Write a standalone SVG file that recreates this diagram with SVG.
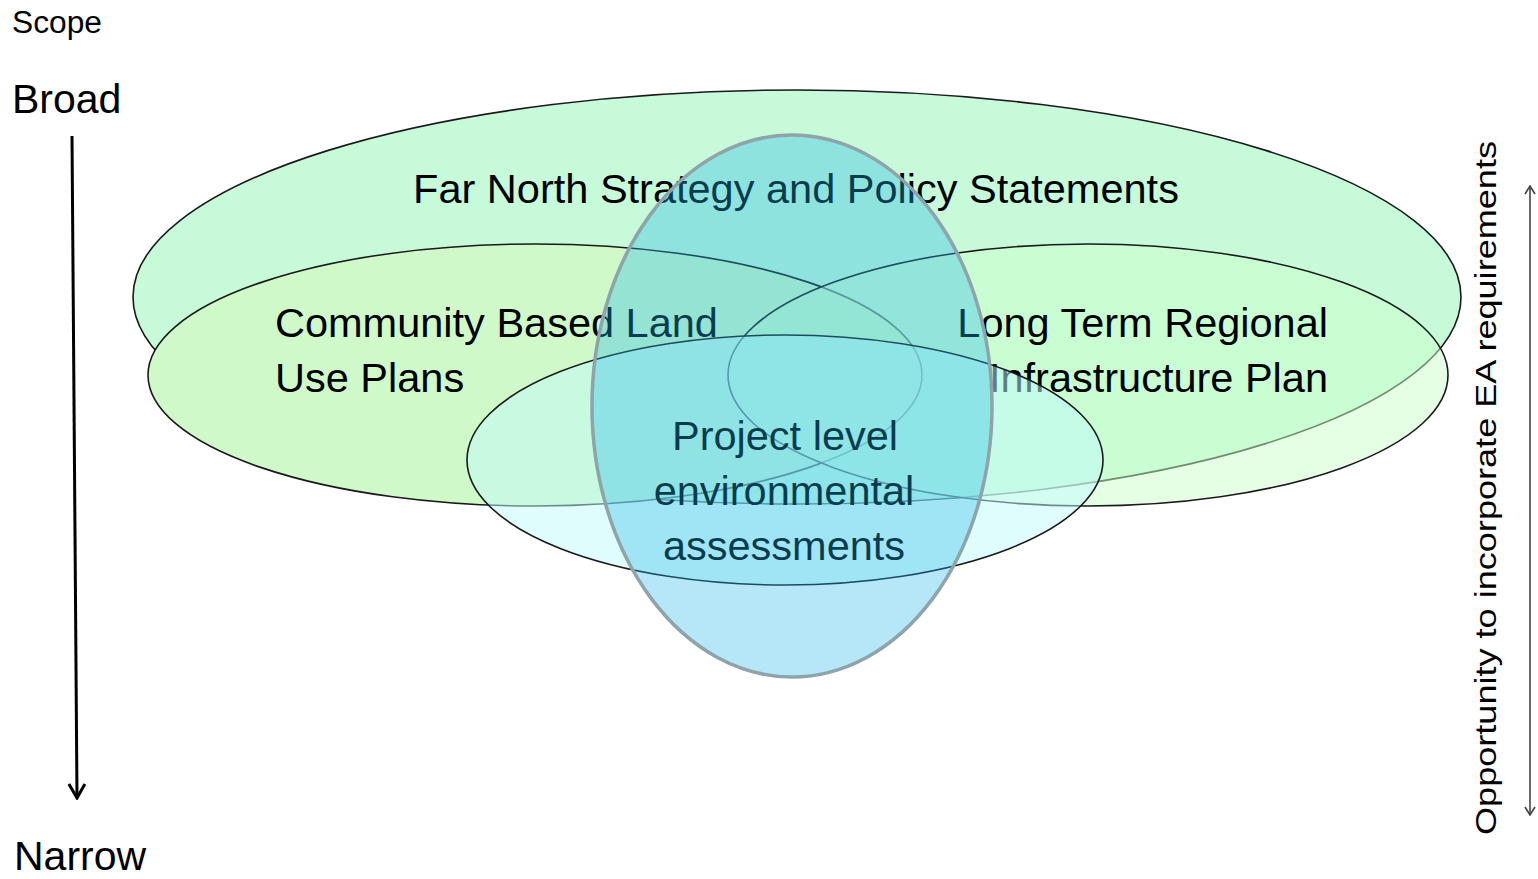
<svg xmlns="http://www.w3.org/2000/svg" width="1538" height="879" viewBox="0 0 1538 879">
<style>
text{font-family:"Liberation Sans",Arial,sans-serif;fill:#000}
.lbl{font-size:41.5px}
.ell{stroke:#1a1a1a;stroke-width:1.6}
</style>
<defs>
<marker id="ah" viewBox="0 0 20 20" refX="18" refY="10" markerWidth="20" markerHeight="20" markerUnits="userSpaceOnUse" orient="auto-start-reverse">
<path d="M4,2 L18,10 L4,18" fill="none" stroke="#000" stroke-width="3"/>
</marker>
<marker id="ah2" viewBox="0 0 12 12" refX="11" refY="6" markerWidth="12" markerHeight="12" markerUnits="userSpaceOnUse" orient="auto-start-reverse">
<path d="M3,1 L11,6 L3,11" fill="none" stroke="#444" stroke-width="1.6"/>
</marker>
</defs>
<rect width="1538" height="879" fill="#fff"/>
<g id="axis-left">
<text x="12" y="33" font-size="31" textLength="90" lengthAdjust="spacingAndGlyphs">Scope</text>
<text x="12" y="113" font-size="41">Broad</text>
<text x="14" y="870" font-size="41">Narrow</text>
</g>
<g id="connectors">
<line x1="72" y1="136" x2="77" y2="798" stroke="#000" stroke-width="3" marker-end="url(#ah)"/>
<line x1="1530" y1="186" x2="1530" y2="815" stroke="#444" stroke-width="1.6" marker-start="url(#ah2)" marker-end="url(#ah2)"/>
</g>
<g id="axis-right">
<text transform="translate(1496,835) rotate(-90)" font-size="30" textLength="694" lengthAdjust="spacingAndGlyphs">Opportunity to incorporate EA requirements</text>
</g>
<g id="far-north">
<ellipse cx="797" cy="297" rx="664" ry="207" fill="#C7FAD9" class="ell"/>
<text x="796" y="203" class="lbl" text-anchor="middle">Far North Strategy and Policy Statements</text>
</g>
<g id="community">
<ellipse cx="535" cy="375" rx="387" ry="131" fill="#CFF9C8" class="ell"/>
<text x="275" y="337" class="lbl">Community Based Land</text>
<text x="275" y="392" class="lbl">Use Plans</text>
</g>
<g id="long-term">
<ellipse cx="1088" cy="375" rx="360" ry="131" fill="#CCFFCC" fill-opacity="0.5" class="ell"/>
<text x="1328" y="337" class="lbl" text-anchor="end">Long Term Regional</text>
<text x="1328" y="392" class="lbl" text-anchor="end">Infrastructure Plan</text>
</g>
<g id="project">
<ellipse cx="785" cy="460" rx="318" ry="125" fill="#C1FBFB" fill-opacity="0.5" class="ell"/>
<text x="785" y="450" class="lbl" text-anchor="middle">Project level</text>
<text x="784" y="505" class="lbl" text-anchor="middle">environmental</text>
<text x="784" y="560" class="lbl" text-anchor="middle">assessments</text>
</g>
<g id="vertical">
<ellipse cx="792" cy="406" rx="200" ry="271" fill="#1DB7EB" fill-opacity="0.33" stroke="#8FA3AA" stroke-width="3.5"/>
</g>
</svg>
